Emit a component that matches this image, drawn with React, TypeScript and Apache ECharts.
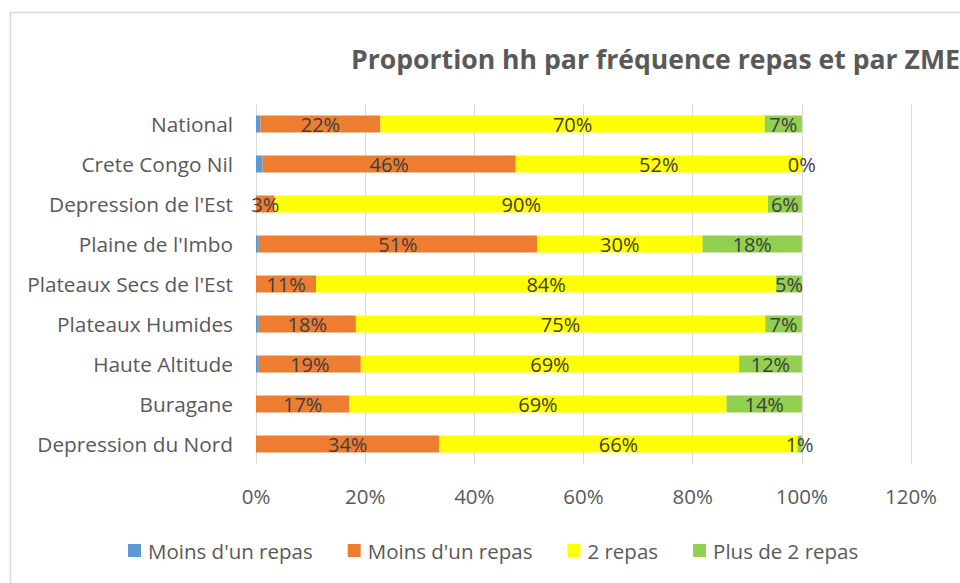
import React, { useEffect, useRef } from "react";
import * as echarts from "echarts";

const categories = [
  "National",
  "Crete Congo Nil",
  "Depression de l'Est",
  "Plaine de l'Imbo",
  "Plateaux Secs de l'Est",
  "Plateaux Humides",
  "Haute Altitude",
  "Buragane",
  "Depression du Nord",
];
const seriesNames = ["Moins d'un repas", "Moins d'un repas ", "2 repas", "Plus de 2 repas"];
const blueValues = [0.8, 1.2, 0, 0.5, 0, 0.5, 0.5, 0, 0];
const orangeValues = [22.0, 46.4, 3.4, 51.0, 11.0, 17.8, 18.7, 17.1, 33.6];
const yellowValues = [70.4, 52.4, 90.4, 30.3, 84.3, 75.0, 69.3, 69.1, 65.6];
const greenValues = [6.8, 0.0, 6.2, 18.2, 4.7, 6.7, 11.5, 13.8, 0.8];
const colors = ["#5B9BD5", "#ED7D31", "#FFFF00", "#92D050"];

const FONT = "'Open Sans', 'Liberation Sans', sans-serif";

export default function App() {
  const ref = useRef<HTMLDivElement>(null);
  useEffect(() => {
    if (!ref.current) return;
    const chart = echarts.init(ref.current, null, { renderer: "svg" });
    const allValues = [blueValues, orangeValues, yellowValues, greenValues];
    const label = {
      show: true,
      position: "inside",
      color: "#404040",
      fontSize: 20,
      fontFamily: FONT,
      formatter: (p: any) => Math.round(p.value) + "%",
    };
    chart.setOption({
      animation: false,
      backgroundColor: "#ffffff",
      color: colors,
      textStyle: { fontFamily: FONT },
      graphic: [
        {
          type: "rect",
          shape: { x: 10.5, y: 12.5, width: 1200, height: 1200 },
          style: { fill: "none", stroke: "#d9d9d9", lineWidth: 1.5 },
          silent: true,
        },
        {
          type: "text",
          left: 351,
          top: 45,
          style: {
            text: "Proportion hh par fréquence repas et par ZME",
            fill: "#595959",
            fontSize: 26.6,
            fontWeight: "bold",
            fontFamily: FONT,
          },
        },
      ],
      legend: {
        left: 123,
        top: 535,
        itemWidth: 13,
        itemHeight: 13,
        itemGap: 35,
        icon: "rect",
        data: seriesNames,
        formatter: (n: string) => n.trim(),
        textStyle: { color: "#595959", fontSize: 20.5, fontFamily: FONT, padding: [0, 0, 0, 2] },
      },
      grid: { left: 256, right: 49, top: 104, bottom: 119, containLabel: false },
      xAxis: {
        type: "value",
        min: 0,
        max: 120,
        interval: 20,
        axisLine: { show: false },
        axisTick: { show: false },
        splitLine: { show: true, lineStyle: { color: "#d9d9d9", width: 1 } },
        axisLabel: {
          color: "#595959",
          fontSize: 20.5,
          fontFamily: FONT,
          margin: 21,
          formatter: (v: number) => v + "%",
        },
      },
      yAxis: {
        type: "category",
        data: categories,
        inverse: true,
        axisLine: { show: false },
        axisTick: { show: false },
        axisLabel: { color: "#595959", fontSize: 20.8, fontFamily: FONT, margin: 23 },
      },
      series: seriesNames.map((name, i) => ({
        name,
        type: "bar",
        stack: "total",
        barWidth: 17,
        data: allValues[i],
        itemStyle: { color: colors[i] },
        label: i === 0 ? { show: false } : label,
      })),
    });
    return () => chart.dispose();
  }, []);
  return (
    <div
      ref={ref}
      style={{ position: "fixed", left: 0, top: 0, width: 960, height: 583 }}
    />
  );
}
